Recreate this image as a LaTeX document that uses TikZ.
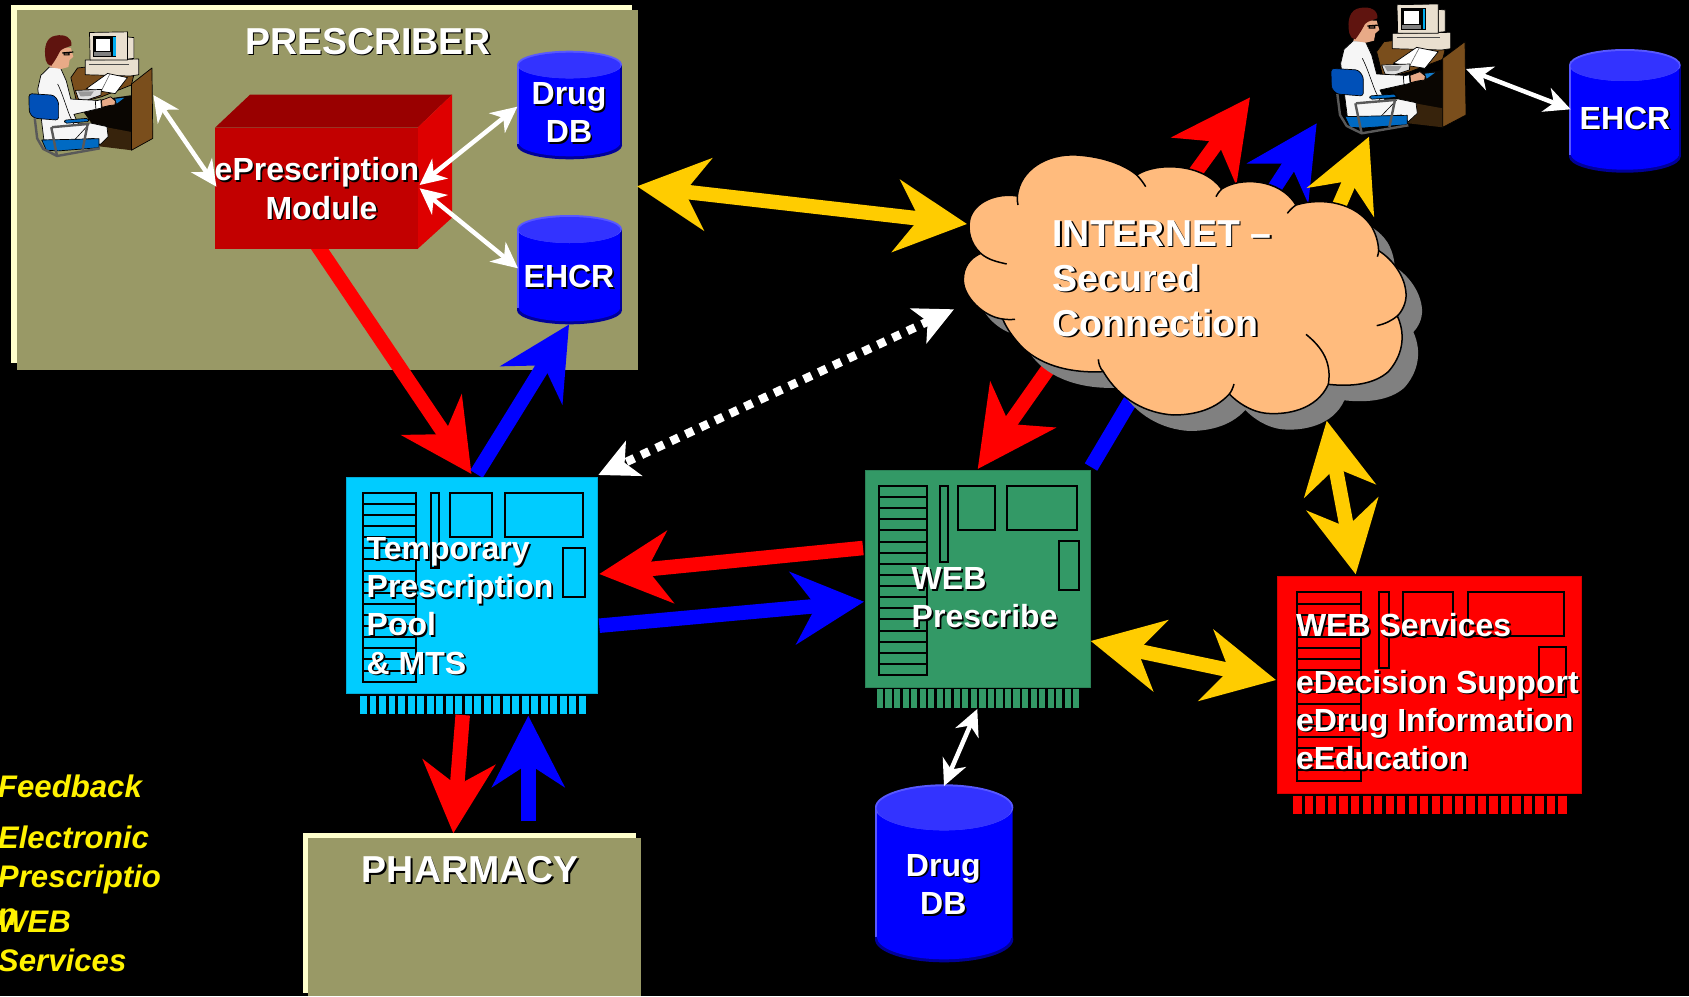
\documentclass[tikz,border=0pt]{standalone}
\usepackage{fontspec}
\usepackage{graphicx}
\setmainfont{Liberation Sans}
\usetikzlibrary{arrows.meta,calc}
\definecolor{cream}{HTML}{FFFFCC}
\definecolor{olive}{HTML}{999966}
\definecolor{gold}{HTML}{FFCC00}
\definecolor{poolc}{HTML}{00CCFF}
\definecolor{webc}{HTML}{339966}
\definecolor{cloudc}{HTML}{FFBB7D}
\definecolor{cloudsh}{HTML}{808080}
\definecolor{cyltop}{HTML}{3333FF}
\definecolor{cylrim}{HTML}{5858FF}
\definecolor{cyldark}{HTML}{000099}
\definecolor{deskc}{HTML}{7A4E1C}
\definecolor{beige}{HTML}{E9DFCF}
\definecolor{chairc}{HTML}{0050B8}
\definecolor{skinc}{HTML}{E8AA87}
\definecolor{hairc}{HTML}{5F140F}
\newcommand\sh[1]{\leavevmode\rlap{\kern1.7pt\raisebox{-1.7pt}{\textcolor{black}{#1}}}\textcolor{white}{#1}}
\tikzset{
 bigtip/.tip={Stealth[length=71pt,width=72pt,inset=23pt]},
 hugetip/.tip={Stealth[length=78pt,width=79pt,inset=23pt]},
 smalltip/.tip={Stealth[length=26pt,width=25pt,inset=8pt]},
 dottip/.tip={Stealth[length=39pt,width=38pt,inset=10pt]},
 bigline/.style={line width=14.5pt},
 smallline/.style={line width=4.5pt,white},
 panelback/.style={fill=cream},
 panelfront/.style={fill=olive},
 lbl/.style={inner sep=0pt,outer sep=0pt,text=white,font=\bfseries\fontsize{32}{38.1}\selectfont},
 title/.style={inner sep=0pt,outer sep=0pt,text=white,font=\bfseries\fontsize{37.5}{45}\selectfont},
 legend/.style={inner sep=0pt,outer sep=0pt,text=yellow,font=\bfseries\itshape\fontsize{31.2}{38.3}\selectfont,align=left,anchor=base west},
 chipline/.style={draw=black,line width=2pt},
 chipbody/.style={inner sep=0pt,outer sep=0pt,line width=.6pt},
}
\newcommand\chip[5]{%
 \node[chipbody,fill=#5,draw=#5!85!black,minimum width=#4pt,minimum height=216.5pt,anchor=north west] (#1) at (#2,#3) {};
 \begin{scope}[shift={(#2,#3)},xscale=#4/251]
  \draw[chipline] (16,15.7) rectangle (69.3,204.7);
  \foreach \k in {1,...,16} {\draw[chipline] (16,{15.7+\k*11.118}) -- (69.3,{15.7+\k*11.118});}
  \draw[chipline] (84,15.7) rectangle (92.6,91.3);
  \draw[chipline] (103.6,15.7) rectangle (145,59.7);
  \draw[chipline] (158,15.7) rectangle (236.6,59.7);
  \draw[chipline] (216,70.7) rectangle (238.3,120);
  \foreach \k in {0,...,23} {\fill[#5] ({13.3+\k*9.52},219) rectangle ++(6.9,18.3);}
 \end{scope}}
\newcommand\cyl[6]{%
 \begin{scope}[shift={(#2,#3)}]
  \pgfmathsetmacro\cw{#4}\pgfmathsetmacro\ch{#5}\pgfmathsetmacro\cr{#6}\pgfmathsetmacro\chw{\cw/2}
  \fill[cyldark] (0,\cr) rectangle (\cw,\ch-\cr);
  \fill[cyldark] (\chw,\ch-\cr) ellipse [x radius=\chw,y radius=\cr];
  \fill[cylrim] (0,\cr) rectangle (3,\ch-\cr-2);
  \fill[blue] (1.8,\cr) rectangle (\cw-1.8,\ch-\cr-1);
  \fill[blue] (\chw,\ch-\cr-2.5) ellipse [x radius=\chw-1.8,y radius=\cr-.5];
  \fill[cylrim] (\chw,\cr) ellipse [x radius=\chw,y radius=\cr];
  \fill[cyltop] (\chw,\cr+1) ellipse [x radius=\chw-1.5,y radius=\cr-1];
  \coordinate (#1) at (\chw,\ch/2);
 \end{scope}}
\newcommand\clerk[5]{%
 \begin{scope}[shift={(#2,#3)},xscale=#4,yscale=#5]
  \coordinate (#1) at (200,200);
  \tikzset{ol/.style={draw=black,line width=.7pt,line join=round}}
  % desk
  \filldraw[ol,fill=deskc] (140,155) -- (162,125) -- (190,122) -- (345,150) -- (338,178) -- (240,215) -- (160,235) -- cycle;
  \fill[black!92!deskc] (160,235) -- (338,210) -- (338,340) -- (210,300) -- cycle;
  \fill[black!55!deskc] (200,300) -- (338,325) -- (338,382) -- (235,370) -- cycle;
  \filldraw[ol,fill=deskc] (338,175) -- (405,125) -- (408,345) -- (338,382) -- cycle;
  % computer
  \filldraw[ol,fill=beige] (187,100) -- (362,97) -- (362,146) -- (335,150) -- (187,146) -- cycle;
  \draw[black!70,line width=.7pt] (200,113) -- (330,113);
  \filldraw[ol,fill=beige] (325,28) -- (346,30) -- (346,95) -- (325,97) -- cycle;
  \filldraw[ol,fill=beige] (201,14) -- (325,12) -- (325,100) -- (203,100) -- cycle;
  \fill[black] (212,25) rectangle (288,90);
  \fill[white] (222,33) rectangle (268,72);
  \fill[cyan] (278,28) rectangle (286,86);
  \fill[gray] (215,76) rectangle (272,86);
  % book
  \filldraw[ol,fill=white] (190,190) -- (260,142) -- (325,155) -- (285,205) -- cycle;
  \draw[black!60,line width=.6pt] (240,196) -- (268,143);
  % keyboard
  \filldraw[ol,fill=gray!25] (155,195) -- (240,192) -- (238,210) -- (190,226) -- (165,222) -- cycle;
  \fill[gray!80] (163,198) -- (215,198) -- (205,212) -- (172,214) -- cycle;
  \fill[cyan!60!blue] (285,221) -- (315,218) -- (290,236) -- cycle;
  % coat
  \filldraw[ol,fill=white!93!gray] (70,122) -- (105,122) -- (125,165) -- (140,222) -- (222,226) -- (240,250) -- (150,270) -- (165,300) -- (205,297) -- (258,308) -- (262,340) -- (235,365) -- (215,345) -- (120,352) -- (52,350) -- (45,295) -- (32,190) -- (42,148) -- cycle;
  \draw[black,line width=.6pt] (97,175) .. controls (120,220) and (130,270) .. (150,300);
  \draw[black,line width=.6pt] (200,300) -- (150,352);
  % chair back
  \filldraw[ol,fill=chairc,rounded corners=3pt] (3,205) -- (85,210) -- (100,230) -- (100,288) -- (20,282) -- (4,265) -- cycle;
  % hand
  \filldraw[ol,fill=white] (220,228) -- (238,224) -- (240,250) -- (222,254) -- cycle;
  \filldraw[ol,fill=skinc] (240,226) -- (270,215) -- (286,228) -- (284,240) -- (262,243) -- (242,248) -- cycle;
  % head
  \fill[skinc] (92,60) -- (140,62) -- (148,90) -- (136,100) -- (132,122) -- (108,128) -- (70,122) -- cycle;
  \fill[hairc] (58,100) .. controls (50,60) and (60,28) .. (90,24) .. controls (120,18) and (145,30) .. (142,55) .. controls (125,62) and (115,62) .. (105,72) .. controls (98,85) and (90,100) .. (76,118) .. controls (65,115) and (60,110) .. (58,100) -- cycle;
  \draw[black,line width=1.2pt] (112,78) -- (148,75) (118,78) rectangle (134,84);
  % chair
  \filldraw[ol,fill=chairc!85!cyan] (45,350) -- (232,346) -- (232,374) -- (100,384) -- (60,382) -- cycle;
  \filldraw[ol,fill=chairc!85!cyan,rounded corners=2pt] (118,288) -- (198,282) -- (200,292) -- (120,298) -- cycle;
  \draw[black!65,line width=2.4pt,line join=round] (22,282) -- (30,345) -- (50,378) -- (95,400) -- (235,376);
  \draw[black!65,line width=2.4pt,line join=round] (76,310) -- (95,400) (78,310) -- (195,300) -- (178,382);
 \end{scope}}
\def\cloudpath{(122,490) .. controls (90,460) and (82,420) .. (90,385) .. controls (105,335) and (170,308) .. (232,318)
 .. controls (240,240) and (320,190) .. (410,195) .. controls (490,200) and (555,225) .. (590,255)
 .. controls (650,215) and (790,220) .. (845,297)
 .. controls (900,260) and (1020,265) .. (1068,345)
 .. controls (1150,320) and (1250,340) .. (1295,410) .. controls (1312,440) and (1315,465) .. (1316,482)
 .. controls (1360,510) and (1395,560) .. (1398,610) .. controls (1400,640) and (1385,665) .. (1372,678)
 .. controls (1400,740) and (1385,800) .. (1345,845) .. controls (1300,885) and (1230,890) .. (1165,883)
 .. controls (1130,960) and (1040,975) .. (980,970) .. controls (930,965) and (890,935) .. (868,912)
 .. controls (820,965) and (750,975) .. (700,975) .. controls (620,970) and (540,930) .. (490,845)
 .. controls (400,850) and (310,830) .. (250,775) .. controls (220,745) and (200,715) .. (188,687)
 .. controls (130,680) and (70,620) .. (70,570) .. controls (70,530) and (90,505) .. (122,490) -- cycle}
\begin{document}
\begin{tikzpicture}[x=1pt,y=-1pt]
\useasboundingbox (0,0) rectangle (1689,996);
\fill[black] (0,0) rectangle (1689,996);
% panels
\fill[panelback] (11,5) rectangle (632,363);
\fill[panelfront] (17,10) rectangle (638,370);
\fill[panelback] (303,833) rectangle (636,993);
\fill[panelfront] (307.7,838) rectangle (641,996);
% anchors
\coordinate (modOut) at (317,245); \coordinate (poolInA) at (471.5,474);
\coordinate (poolOutA) at (476.5,474); \coordinate (ehcrIn) at (569,324.5);
\coordinate (panelR) at (637,186.3); \coordinate (cloudL) at (967,224);
\coordinate (cloudDotA) at (954,309.3); \coordinate (poolDot) at (598.3,475);
\coordinate (cloudRedS) at (1060,352); \coordinate (webRedT) at (977.7,469);
\coordinate (cloudBlueS) at (1151,366); \coordinate (webBlueT) at (1091,467);
\coordinate (cloudRedT) at (1190,180); \coordinate (topRed) at (1250,97.3);
\coordinate (cloudBlueT) at (1270,195); \coordinate (topBlue) at (1316.7,123.3);
\coordinate (cloudGoldT) at (1335,215); \coordinate (topGold) at (1369,136.7);
\coordinate (cloudB) at (1326.7,420.7); \coordinate (svcT) at (1355.7,574.3);
\coordinate (webL) at (863,548); \coordinate (poolR1) at (599.3,574);
\coordinate (poolR2) at (599.3,625.7); \coordinate (webL2) at (864,601.7);
\coordinate (webR) at (1090.7,641); \coordinate (svcL) at (1276,680);
\coordinate (poolB) at (462.7,715); \coordinate (pharmT) at (453.3,833.3);
\coordinate (pharmUp) at (528.3,821); \coordinate (poolB2) at (528.3,715.7);
% big connectors
\draw[bigline,red,-{bigtip}] (modOut) -- (poolInA);
\draw[bigline,blue,-{bigtip}] (poolOutA) -- (ehcrIn);
\draw[bigline,gold,{bigtip}-{bigtip}] (panelR) -- (cloudL);
\draw[line width=8.5pt,white,dash pattern=on 8.5pt off 7.8pt,{dottip}-{dottip}] (cloudDotA) -- (poolDot);
\draw[bigline,red,-{hugetip}] (cloudRedS) -- (webRedT);
\draw[bigline,blue] (cloudBlueS) -- (webBlueT);
\draw[bigline,red,-{hugetip}] (cloudRedT) -- (topRed);
\draw[bigline,blue,-{bigtip}] (cloudBlueT) -- (topBlue);
\draw[bigline,gold,-{bigtip}] (cloudGoldT) -- (topGold);
\draw[bigline,gold,{bigtip}-{bigtip}] (cloudB) -- (svcT);
\draw[bigline,red,-{bigtip}] (webL) -- (poolR1);
\draw[bigline,blue,-{bigtip}] (poolR2) -- (webL2);
\draw[bigline,gold,{bigtip}-{bigtip}] (webR) -- (svcL);
\draw[bigline,red,-{bigtip}] (poolB) -- (pharmT);
\draw[bigline,blue,-{bigtip}] (pharmUp) -- (poolB2);
% cloud
\begin{scope}[shift={(940,90)},scale=.33333]
 \fill[cloudsh,shift={(48,48)}] \cloudpath;
 \filldraw[fill=cloudc,draw=black,line width=1.5pt] \cloudpath;
 \draw[black,line width=1.5pt] (122,490) .. controls (145,510) and (170,515) .. (200,522)
  (232,318) .. controls (231,328) and (232,335) .. (234,345)
  (590,255) .. controls (600,265) and (610,278) .. (617,290)
  (845,297) .. controls (838,303) and (832,312) .. (828,320)
  (1068,345) .. controls (1058,352) and (1050,360) .. (1042,370)
  (1316,482) .. controls (1316,488) and (1314,495) .. (1312,500)
  (1372,678) .. controls (1355,692) and (1335,702) .. (1310,707)
  (1165,883) .. controls (1175,820) and (1150,775) .. (1098,733)
  (868,912) .. controls (874,905) and (879,893) .. (882,882)
  (490,845) .. controls (480,835) and (476,822) .. (475,808)
  (188,687) .. controls (200,689) and (212,689) .. (225,688);
\end{scope}
\node[title,anchor=base west,align=left] (internet) at (1052.5,336) {\sh{INTERNET –}\\\sh{Secured}\\\sh{Connection}};
% chips
\chip{pool}{346.7}{477}{251}{poolc}
\chip{webp}{865}{470.3}{225}{webc}
\chip{svc}{1277.3}{576.7}{303.7}{red}
\node[lbl,anchor=base west,align=left] (poollbl) at (366.7,674) {\sh{Temporary}\\\sh{Prescription}\\\sh{Pool}\\\sh{\& MTS}};
\node[lbl,anchor=base west,align=left] (webplbl) at (911.7,627.7) {\sh{WEB}\\\sh{Prescribe}};
\node[lbl,anchor=base west,align=left] (svclbl) at (1296,769.3) {\sh{WEB Services}\\[18.4pt]\sh{eDecision Support}\\\sh{eDrug Information}\\\sh{eEducation}};
% module box
\fill[red!60!black] (215,127.7) -- (250,94.7) -- (452,94.7) -- (417.5,127.7) -- cycle;
\fill[red!87!black] (417.5,127.7) -- (452,94.7) -- (452,217.7) -- (417.5,249) -- cycle;
\node[inner sep=0pt,outer sep=0pt,fill=red!76!black,minimum width=202.5pt,minimum height=121.3pt,anchor=north west] (module) at (215,127.7) {};
\node[lbl,anchor=base,align=center] (modlbl) at (317,219) {\sh{ePrescription}\\\hspace*{9pt}\sh{Module}};
% cylinders
\cyl{drug1}{517}{50.7}{105}{108.6}{13.8}
\cyl{ehcr1}{517}{215}{105}{109.3}{14}
\cyl{ehcr2}{1569}{49}{111.7}{123.7}{16}
\cyl{drug2}{875}{784.3}{138.3}{178}{23}
\node[lbl,anchor=base,align=center] (drug1lbl) at (569,142.7) {\sh{Drug}\\\sh{DB}};
\node[lbl,anchor=base] (ehcr1lbl) at (569,287.5) {\sh{EHCR}};
\node[lbl,anchor=base] (ehcr2lbl) at (1625,129) {\sh{EHCR}};
\node[lbl,anchor=base,align=center] (drug2lbl) at (943.3,914.3) {\sh{Drug}\\\sh{DB}};
\node[title,anchor=base] (prescr) at (368,54) {\sh{PRESCRIBER}};
\node[title,anchor=base] (pharm) at (470.3,882.7) {\sh{PHARMACY}};
% clerks
\clerk{clerkA}{28}{28}{.306}{.32}
\clerk{clerkB}{1330}{0}{.3333}{.3333}
% small connectors
\coordinate (cAr) at (153.4,95); \coordinate (modL) at (216.4,186.7);
\coordinate (modR1) at (419.6,185); \coordinate (drugL) at (517.4,106.7);
\coordinate (modR2) at (419.6,188.3); \coordinate (ehcrL) at (518,268.3);
\coordinate (cBr) at (1466,69); \coordinate (ehcr2L) at (1570.7,109.3);
\coordinate (webB) at (977.3,709); \coordinate (drug2T) at (944,786);
\draw[smallline,{smalltip}-{smalltip}] (cAr) -- (modL);
\draw[smallline,{smalltip}-{smalltip}] (modR1) -- (drugL);
\draw[smallline,{smalltip}-{smalltip}] (modR2) -- (ehcrL);
\draw[smallline,{smalltip}-{smalltip}] (cBr) -- (ehcr2L);
\draw[smallline,{smalltip}-{smalltip}] (webB) -- (drug2T);
% legend
\node[legend] (lg1) at (-2,797.7) {Feedback};
\node[legend] (lg2) at (-2,925.3) {Electronic\\Prescriptio\\n};
\node[legend] (lg3) at (-2,971) {WEB\\Services};
\end{tikzpicture}
\end{document}
